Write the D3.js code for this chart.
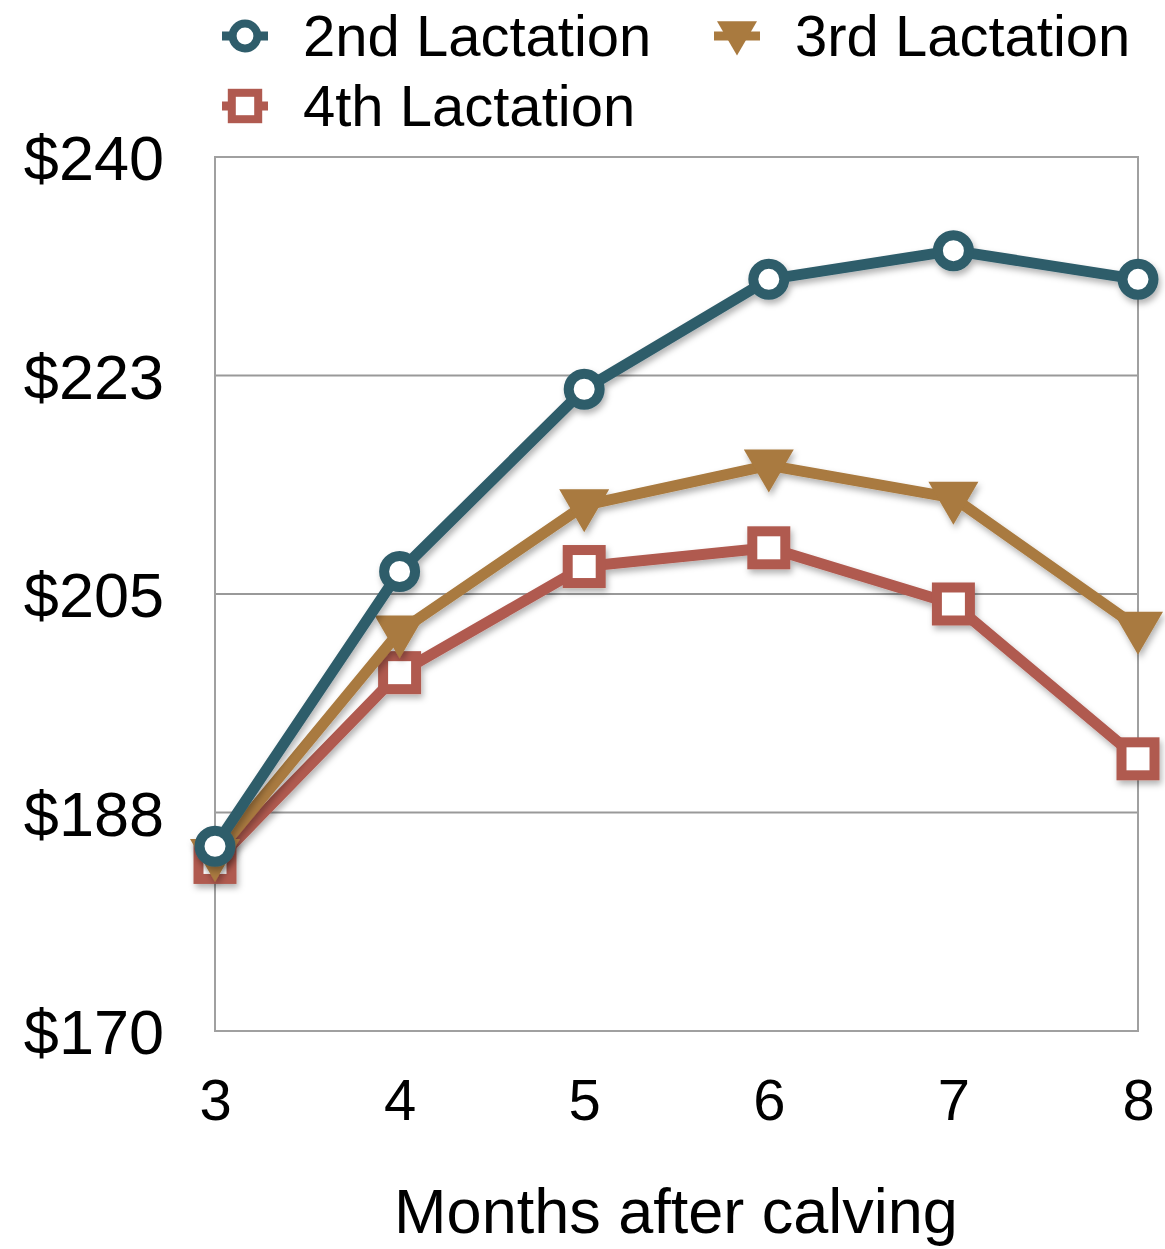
<!DOCTYPE html>
<html>
<head>
<meta charset="utf-8">
<script src="https://cdnjs.cloudflare.com/ajax/libs/d3/7.8.5/d3.min.js"></script>
<style>
  body { margin: 0; background: #fff; }
  svg { font-family: "Liberation Sans", Arial, sans-serif; }
</style>
</head>
<body>
<svg id="chart"></svg>
<script>
// data
var months = [3, 4, 5, 6, 7, 8];
var lact2 = [184.8, 206.8, 221.4, 230.2, 232.5, 230.2];
var lact3 = [184.1, 202.0, 212.1, 215.3, 212.7, 202.3];
var lact4 = [183.5, 198.7, 207.2, 208.7, 204.2, 191.8];
var yTicks = [170, 187.5, 205, 222.5, 240];

var series = [
    { name: "2nd Lactation", values: lact2, color: "#2f5d6b", symbol: "circle" },
    { name: "3rd Lactation", values: lact3, color: "#a97a3f", symbol: "triangle" },
    { name: "4th Lactation", values: lact4, color: "#b05a50", symbol: "square" }
];

var width = 1165, height = 1249;
var margin = { top: 157, right: 27, bottom: 218, left: 215 };

var svg = d3.select("#chart")
    .attr("width", width)
    .attr("height", height);

var defs = svg.append("defs");
var f = defs.append("filter").attr("id", "shadow")
    .attr("x", "-20%").attr("y", "-20%").attr("width", "140%").attr("height", "140%");
f.append("feDropShadow")
    .attr("dx", 2).attr("dy", 4).attr("stdDeviation", 3)
    .attr("flood-color", "#000").attr("flood-opacity", 0.3);

var x = d3.scaleLinear()
    .domain([3, 8])
    .range([margin.left, width - margin.right]);

var y = d3.scaleLinear()
    .domain([170, 240])
    .range([height - margin.bottom, margin.top]);

// grid + frame
svg.append("g")
    .selectAll("line")
    .data(yTicks.slice(1, -1))
    .join("line")
    .attr("x1", x(3)).attr("x2", x(8))
    .attr("y1", d => y(d)).attr("y2", d => y(d))
    .attr("stroke", "#999").attr("stroke-width", 2);

svg.append("rect")
    .attr("x", x(3)).attr("y", y(240))
    .attr("width", x(8) - x(3)).attr("height", y(170) - y(240))
    .attr("fill", "none").attr("stroke", "#a0a0a0").attr("stroke-width", 2);

// y axis labels
var yAxis = g => g
    .attr("transform", `translate(${margin.left - 48},0)`)
    .call(d3.axisLeft(y).tickValues(yTicks).tickSize(0).tickFormat(d => "$" + Math.round(d)))
    .call(g => g.select(".domain").remove())
    .call(g => g.selectAll("text")
        .attr("font-size", 63).attr("fill", "#000")
        .attr("font-family", "Liberation Sans, Arial, sans-serif")
        .attr("dy", "0.36em"));

var xAxis = g => g
    .attr("transform", `translate(0,${height - margin.bottom + 45})`)
    .call(d3.axisBottom(x).tickValues(months).tickSize(0).tickFormat(d3.format("d")))
    .call(g => g.select(".domain").remove())
    .call(g => g.selectAll("text")
        .attr("font-size", 58).attr("fill", "#000")
        .attr("font-family", "Liberation Sans, Arial, sans-serif")
        .attr("dy", "0.7em"));

svg.append("g").call(yAxis);
svg.append("g").call(xAxis);

svg.append("text")
    .attr("x", 676).attr("y", 1233)
    .attr("text-anchor", "middle")
    .attr("font-size", 63)
    .text("Months after calving");

var line = d3.line()
    .x((d, i) => x(months[i]))
    .y(d => y(d));

function drawMarker(g, s, cx, cy, scale) {
    if (s.symbol === "circle") {
        g.append("circle")
            .attr("cx", cx).attr("cy", cy).attr("r", 15.5 * scale)
            .attr("fill", "#fff").attr("stroke", s.color).attr("stroke-width", 10 * scale);
    } else if (s.symbol === "square") {
        var h = 16.5 * scale;
        g.append("rect")
            .attr("x", cx - h).attr("y", cy - h).attr("width", 2 * h).attr("height", 2 * h)
            .attr("fill", "#fff").attr("stroke", s.color).attr("stroke-width", 10 * scale);
    } else {
        var w = 25 * scale;
        g.append("path")
            .attr("d", `M${cx - w},${cy - 16 * scale}L${cx + w},${cy - 16 * scale}L${cx},${cy + 27 * scale}Z`)
            .attr("fill", s.color);
    }
}

// draw series bottom-up so 2nd lactation sits on top
series.slice().reverse().forEach(function (s) {
    var g = svg.append("g").attr("filter", "url(#shadow)");
    g.append("path")
        .datum(s.values)
        .attr("d", line)
        .attr("fill", "none")
        .attr("stroke", s.color)
        .attr("stroke-width", 11)
        .attr("stroke-linejoin", "round");
    s.values.forEach(function (v, i) {
        drawMarker(g, s, x(months[i]), y(v), 1);
    });
});

// legend
var legendPos = [
    { x: 245, y: 36 },
    { x: 737, y: 36 },
    { x: 245, y: 106 }
];
series.forEach(function (s, i) {
    var p = legendPos[i];
    var g = svg.append("g");
    g.append("line")
        .attr("x1", p.x - 23).attr("x2", p.x + 23)
        .attr("y1", p.y).attr("y2", p.y)
        .attr("stroke", s.color).attr("stroke-width", 9);
    drawMarker(g, s, p.x, p.y - (s.symbol === "triangle" ? 2 : 0), 0.8);
    g.append("text")
        .attr("x", p.x + 58).attr("y", p.y + 20)
        .attr("font-size", 58)
        .text(s.name);
});
</script>
</body>
</html>
